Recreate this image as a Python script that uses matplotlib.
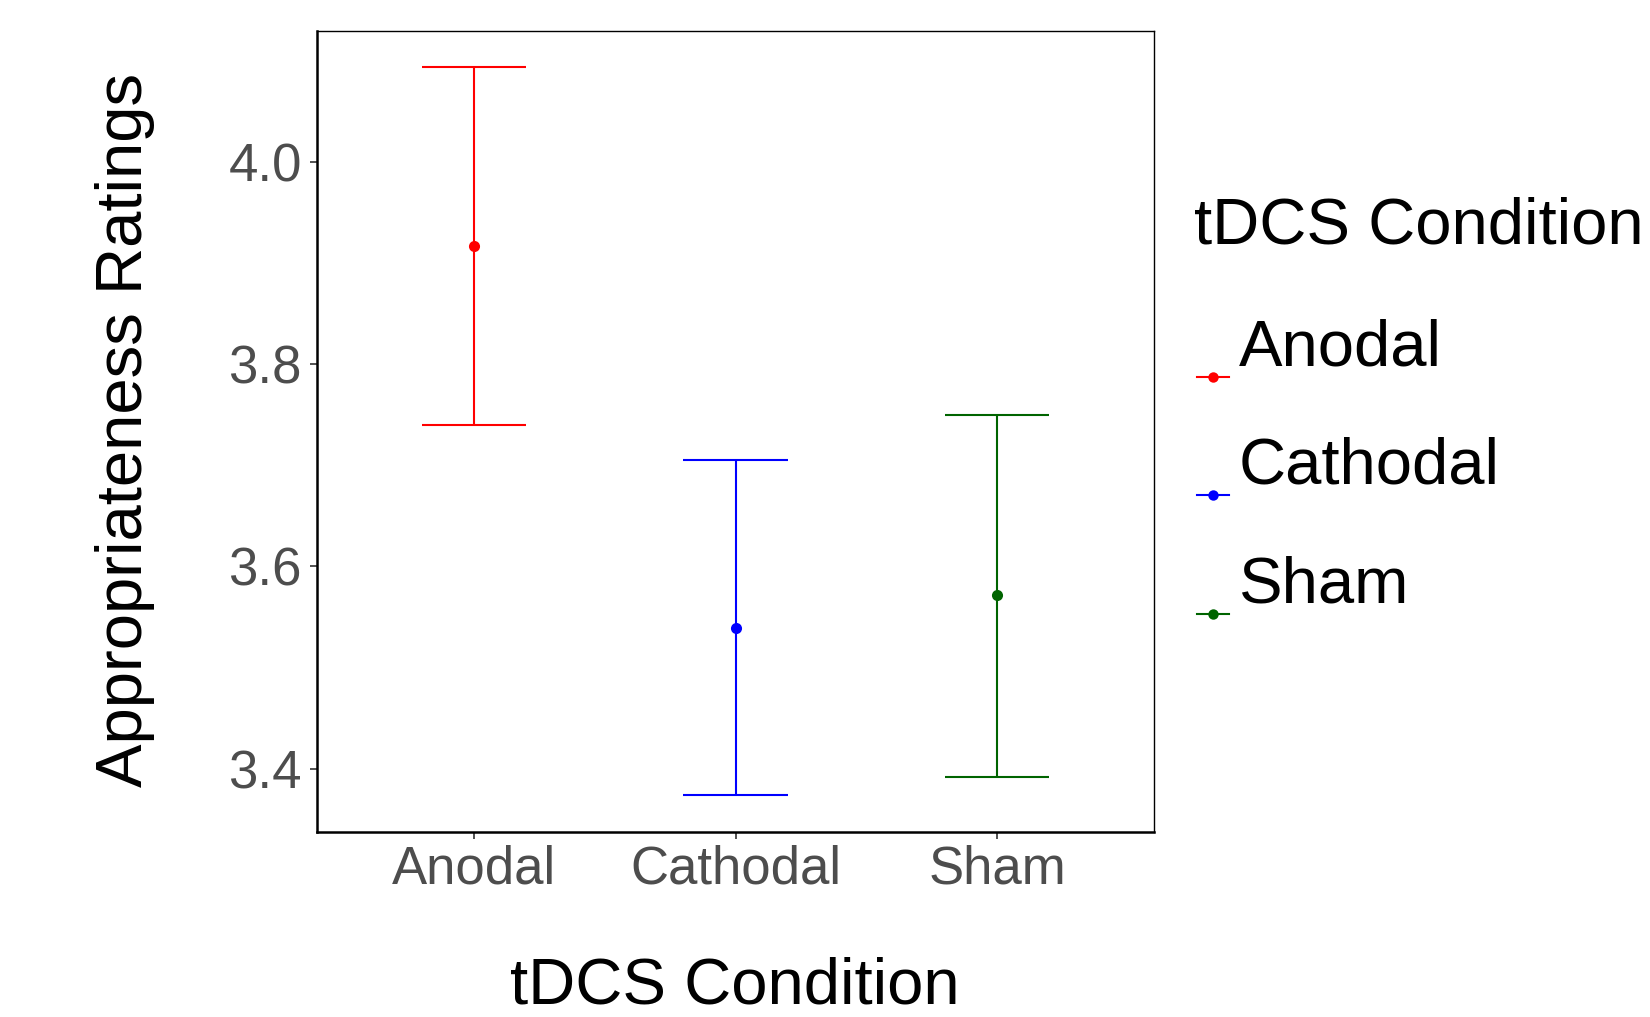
import matplotlib
matplotlib.use('Agg')
import matplotlib.pyplot as plt
from matplotlib.lines import Line2D

plt.rcParams['font.family'] = ['Liberation Sans', 'DejaVu Sans']

# data
categories = ['Anodal', 'Cathodal', 'Sham']
means = [3.917, 3.539, 3.572]
lower = [3.740, 3.374, 3.392]
upper = [4.094, 3.705, 3.750]
colors = ['#FF0000', '#0000FF', '#006400']
yticks = [3.4, 3.6, 3.8, 4.0]

W, H = 1650, 1017
fig = plt.figure(figsize=(W / 100, H / 100), dpi=100)
ax = fig.add_axes([317 / W, 1 - 831.7 / H, (1154 - 317) / W, (831.7 - 30.7) / H])

xs = [1, 2, 3]
for x, m, lo, hi, c in zip(xs, means, lower, upper, colors):
    ax.vlines(x, lo, hi, color=c, lw=1.5)
    ax.hlines([lo, hi], x - 0.2, x + 0.2, color=c, lw=1.5)
    ax.plot(x, m, 'o', color=c, ms=8, mec='none')

ax.set_xlim(0.4, 3.6)
ax.set_ylim(3.3376, 4.1295)
ax.set_xticks(xs)
ax.set_xticklabels(categories)
ax.set_yticks(yticks)
ax.set_yticklabels([f'{v:.1f}' for v in yticks])

ax.tick_params(axis='both', colors='#333333', labelcolor='#4D4D4D', labelsize=38,
               length=5, width=1.2)
ax.tick_params(axis='y', pad=6)
ax.tick_params(axis='x', pad=4)
for side in ['left', 'bottom']:
    ax.spines[side].set_linewidth(1.8)
for side in ['top', 'right']:
    ax.spines[side].set_linewidth(1.0)

def fx(px):
    return px / W

def fy(py):
    return 1 - py / H

# axis titles
fig.text(fx(735), fy(1003), 'tDCS Condition', fontsize=47, ha='center', va='baseline')
fig.text(fx(142), fy(429.5), 'Appropriateness Ratings', fontsize=47, rotation=90,
         rotation_mode='anchor', ha='center', va='baseline')

# legend
fig.text(fx(1194), fy(244), 'tDCS Condition', fontsize=47, ha='left', va='baseline')
label_base = [365, 483.3, 602.7]
for lab, c, yb in zip(categories, colors, label_base):
    fig.text(fx(1239), fy(yb), lab, fontsize=47, ha='left', va='baseline')
    yk = fy(yb + 11.5)
    fig.add_artist(Line2D([fx(1197), fx(1229)], [yk, yk], color=c, lw=1.5,
                          transform=fig.transFigure))
    fig.add_artist(Line2D([fx(1213)], [yk], marker='o', color=c, ms=7.5, mec='none',
                          transform=fig.transFigure))

fig.savefig('out.png', dpi=100)
